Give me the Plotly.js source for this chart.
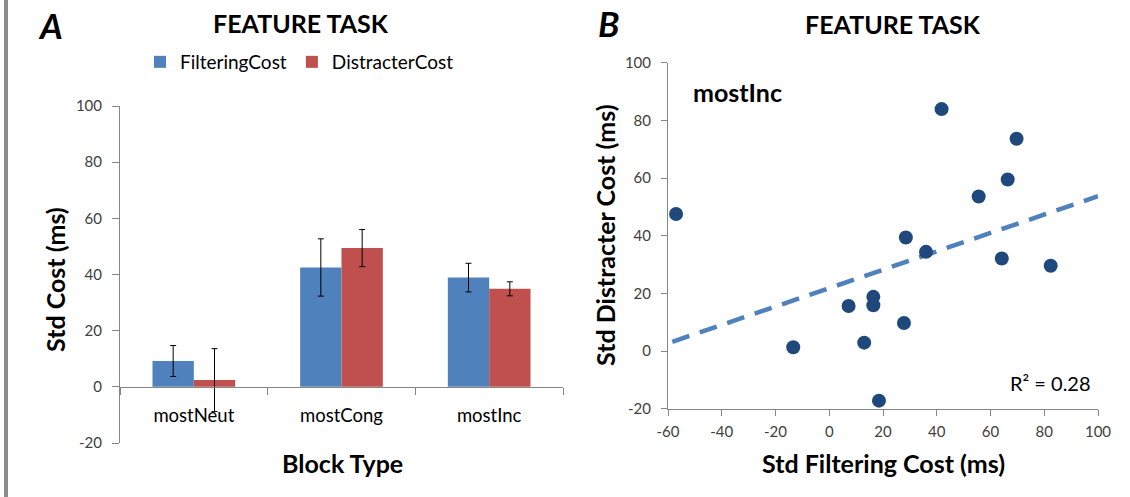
<!DOCTYPE html>
<html>
<head>
<meta charset="utf-8">
<script src="https://cdn.plot.ly/plotly-3.0.1.min.js"></script>
<style>
  html, body { margin: 0; padding: 0; background: #ffffff; }
  #chart { width: 1130px; height: 497px; }
</style>
</head>
<body>
<div id="chart"></div>
<script>
// ---------- data ----------
const blockTypes = ["mostNeut", "mostCong", "mostInc"];
const filteringCost = [9.2, 42.5, 38.9];
const filteringErr = [5.5, 10.2, 5.1];
const distracterCost = [2.4, 49.4, 34.9];
const distracterErr = [11.2, 6.6, 2.5];

const stdFilteringCost = [-57.0, 41.8, 69.7, 66.4, 55.6, 28.5, 36.0, 64.2, 82.4, 16.4, 16.4, 7.2, 27.8, 13.0, -13.4, 18.5];
const stdDistracterCost = [47.5, 83.9, 73.6, 59.5, 53.6, 39.4, 34.4, 32.1, 29.6, 18.8, 15.9, 15.6, 9.7, 2.9, 1.3, -17.2];

const trendX = [-58.4, 100];
const trendY = [3.2, 53.7];
const rSquaredText = "R² = 0.28";

// tick labels (plain hyphen minus, as in the reference)
const costTickVals = [-20, 0, 20, 40, 60, 80, 100];
const costTickText = ["-20", "0", "20", "40", "60", "80", "100"];
const filtTickVals = [-60, -40, -20, 0, 20, 40, 60, 80, 100];
const filtTickText = ["-60", "-40", "-20", "0", "20", "40", "60", "80", "100"];

// ---------- layout helpers ----------
const W = 1130, H = 497;
const px = v => v / W;
const py = v => 1 - v / H;

const FONT = "Lato, 'Open Sans', sans-serif";
const AX = "#868686";
const TICKFONT = { family: FONT, size: 15, color: "#404040" };

const traces = [
  {
    type: "bar", name: "FilteringCost", x: blockTypes, y: filteringCost,
    xaxis: "x", yaxis: "y",
    marker: { color: "#4F81BD" },
    error_y: { type: "data", array: filteringErr, visible: true, color: "#000000", thickness: 1, width: 3 }
  },
  {
    type: "bar", name: "DistracterCost", x: blockTypes, y: distracterCost,
    xaxis: "x", yaxis: "y",
    marker: { color: "#C0504D" },
    error_y: { type: "data", array: distracterErr, visible: true, color: "#000000", thickness: 1, width: 3 }
  },
  {
    type: "scatter", mode: "lines", x: trendX, y: trendY,
    xaxis: "x2", yaxis: "y2", showlegend: false, hoverinfo: "skip",
    line: { color: "#4F81BD", width: 4.5, dash: "18px,11px" }
  },
  {
    type: "scatter", mode: "markers", x: stdFilteringCost, y: stdDistracterCost,
    xaxis: "x2", yaxis: "y2", showlegend: false,
    marker: { color: "#1F497D", size: 14 }
  }
];

const ann = (text, x, y, size, opts) => Object.assign({
  text: text, xref: "paper", yref: "paper", x: px(x), y: py(y),
  xanchor: "center", yanchor: "middle", showarrow: false,
  font: { family: FONT, size: size, color: "#000000" }
}, opts || {});

const layout = {
  width: W, height: H,
  margin: { l: 0, r: 0, t: 0, b: 0 },
  paper_bgcolor: "#ffffff", plot_bgcolor: "#ffffff",
  barmode: "group", bargap: 0.44, bargroupgap: 0,
  font: { family: FONT },
  showlegend: true,
  legend: {
    orientation: "h", x: px(140), y: py(62), xanchor: "left", yanchor: "middle",
    font: { family: FONT, size: 19, color: "#000000" },
    bgcolor: "rgba(0,0,0,0)", itemclick: false, itemdoubleclick: false
  },
  xaxis: {
    domain: [px(120), px(563)], anchor: "free", position: py(386.7),
    type: "category", showline: true, linecolor: AX, linewidth: 1,
    ticks: "outside", tickson: "boundaries", ticklen: 7, tickcolor: AX,
    showgrid: false, zeroline: false, ticklabelstandoff: 12,
    tickfont: { family: FONT, size: 18.5, color: "#000000" }
  },
  yaxis: {
    domain: [py(443), py(106)], anchor: "x", range: [-20, 100],
    tickmode: "array", tickvals: costTickVals, ticktext: costTickText,
    showline: true, linecolor: AX, linewidth: 1, ticks: "outside", ticklen: 7, tickcolor: AX,
    showgrid: false, zeroline: false, ticklabelstandoff: 7, tickfont: TICKFONT
  },
  xaxis2: {
    domain: [px(668), px(1098)], anchor: "y2", range: [-60, 100],
    tickmode: "array", tickvals: filtTickVals, ticktext: filtTickText,
    showline: true, linecolor: AX, linewidth: 1, ticks: "outside", ticklen: 6, tickcolor: AX,
    showgrid: false, zeroline: false, ticklabelstandoff: 3, tickfont: TICKFONT
  },
  yaxis2: {
    domain: [py(408.7), py(62.7)], anchor: "x2", range: [-20, 100],
    tickmode: "array", tickvals: costTickVals, ticktext: costTickText,
    showline: true, linecolor: AX, linewidth: 1, ticks: "outside", ticklen: 6, tickcolor: AX,
    showgrid: false, zeroline: false, ticklabelstandoff: 7, tickfont: TICKFONT
  },
  shapes: [
    { type: "line", xref: "paper", yref: "paper", x0: px(6), x1: px(6), y0: 0, y1: 1,
      line: { color: "#8c8c8c", width: 4 } }
  ],
  annotations: [
    ann("<b><i>A</i></b>", 50, 25, 35),
    ann("<b><i>B</i></b>", 609, 23, 35),
    ann("<b>FEATURE TASK</b>", 301, 22.5, 25),
    ann("<b>FEATURE TASK</b>", 893, 24, 25),
    ann("<b>Std Cost (ms)</b>", 55, 280, 25, { textangle: -90 }),
    ann("<b>Block Type</b>", 342, 463, 25),
    ann("<b>Std Distracter Cost (ms)</b>", 605, 235, 25, { textangle: -90 }),
    ann("<b>Std Filtering Cost (ms)</b>", 883.5, 463, 25),
    ann("<b>mostInc</b>", 691, 92, 25, { xanchor: "left" }),
    ann(rSquaredText, 1093, 383, 20, { xanchor: "right" })
  ]
};

Plotly.newPlot("chart", traces, layout, { displayModeBar: false, staticPlot: true });
</script>
</body>
</html>
